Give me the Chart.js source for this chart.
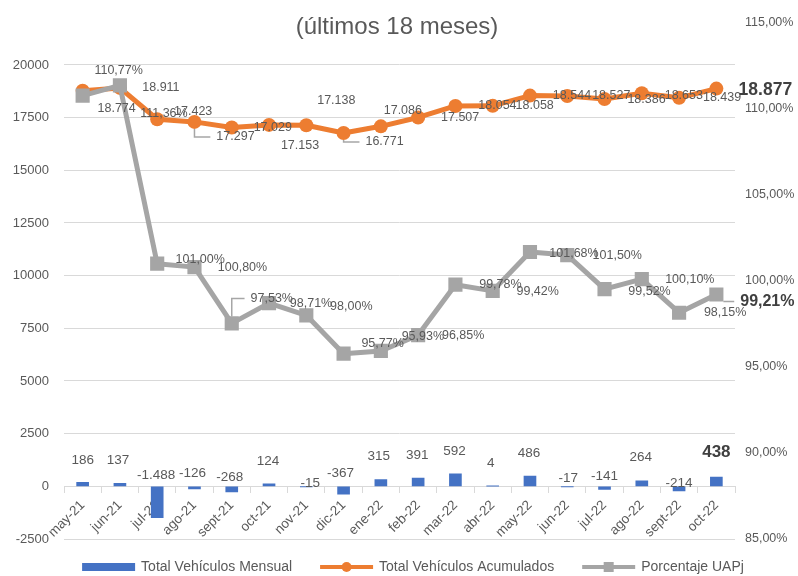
<!DOCTYPE html>
<html>
<head>
<meta charset="utf-8">
<script src="https://cdn.jsdelivr.net/npm/chart.js@4.4.0/dist/chart.umd.min.js"></script>
<style>
  html, body { margin: 0; padding: 0; background: #fff; }
  #wrap { width: 798px; height: 576px; position: relative; }
</style>
</head>
<body>
<div id="wrap"><canvas id="chart"></canvas></div>
<script>
// datos
const meses = ['may-21', 'jun-21', 'jul-21', 'ago-21', 'sept-21', 'oct-21', 'nov-21', 'dic-21', 'ene-22',
  'feb-22', 'mar-22', 'abr-22', 'may-22', 'jun-22', 'jul-22', 'ago-22', 'sept-22', 'oct-22'];
const mensual = [186, 137, -1488, -126, -268, 124, -15, -367, 315, 391, 592, 4, 486, -17, -141, 264, -214, 438];
const acumulado = [18774, 18911, 17423, 17297, 17029, 17153, 17138, 16771, 17086, 17507, 18054, 18058,
  18544, 18527, 18386, 18653, 18439, 18877];
const porcentaje = [110.77, 111.36, 101.00, 100.80, 97.53, 98.71, 98.00, 95.77, 95.93, 96.85, 99.78, 99.42,
  101.68, 101.50, 99.52, 100.10, 98.15, 99.21];
const ticksIzq = [-2500, 0, 2500, 5000, 7500, 10000, 12500, 15000, 17500, 20000];
const ticksDer = [85, 90, 95, 100, 105, 110, 115];

// desplazamiento de las etiquetas respecto a su punto (como las dejo Excel)
const mensualDx = [0, -2, -1, -2, -2, -1, 4, -3, -2, -1, -1, -2, -1, 1, 0, -1, 0, 0];
const mensualDy = [-22, -23, -42, -16, -15, -22, -3, -21, -23, -23, -23, -23, -23, -8, -13, -23, -8, -25];
const acumDx = [34, 41, 36, 41, 41, 31, 30, 41, 22, 42, 42, 42, 42, 44, 42, 42, 43, 49];
const acumDy = [18, 0, -8, 15, 0, 21, -25, 9, -16, 0, 0, 0, 0, 0, 1, 2, 0, 2];
const pctDx = [36, 44, 43, 48, 40, 42, 45, 39, 42, 45, 45, 45, 44, 50, 45, 48, 46, 51];
const pctDy = [-25, 28, -4, 0, -25, 0, -9, -10, -14, 0, 0, 1, 2, 0, 2, 0, 0, 7];

const AZUL = '#4472C4';
const NARANJA = '#ED7D31';
const GRIS = '#A5A5A5';
const TXT = '#595959';
const FONT = '"Liberation Sans", Arial, sans-serif';

function fmtMiles(v) {
  return (v < 0 ? '-' : '') + String(Math.abs(v)).replace(/\B(?=(\d{3})+(?!\d))/g, '.');
}
function fmtPct(v) {
  return v.toFixed(2).replace('.', ',') + '%';
}

const etiquetas = {
  id: 'etiquetas',
  afterDatasetsDraw(chart) {
    const ctx = chart.ctx;
    const series = [
      { idx: 0, vals: mensual, fmt: fmtMiles, dx: mensualDx, dy: mensualDy, size: 13.5, bold: 17, r: 0, guias: [] },
      { idx: 1, vals: acumulado, fmt: fmtMiles, dx: acumDx, dy: acumDy, size: 12.5, bold: 17.5, r: 7, guias: [3, 7] },
      { idx: 2, vals: porcentaje, fmt: fmtPct, dx: pctDx, dy: pctDy, size: 12.5, bold: 16, r: 7, guias: [4, 17] }
    ];
    ctx.save();
    ctx.textAlign = 'center';
    ctx.textBaseline = 'middle';
    series.forEach(s => {
      const meta = chart.getDatasetMeta(s.idx);
      meta.data.forEach((el, i) => {
        const ultimo = i === s.vals.length - 1;
        const txt = s.fmt(s.vals[i]);
        const lx = el.x + s.dx[i];
        const ly = el.y + s.dy[i];
        ctx.font = ultimo ? 'bold ' + s.bold + 'px ' + FONT : s.size + 'px ' + FONT;
        ctx.fillStyle = ultimo ? '#404040' : TXT;
        if (s.guias.includes(i)) {
          const izq = lx - ctx.measureText(txt).width / 2 - 6;
          ctx.strokeStyle = '#A6A6A6';
          ctx.lineWidth = 1.5;
          ctx.beginPath();
          if (Math.abs(ly - el.y) > s.r) {
            ctx.moveTo(el.x, el.y + Math.sign(ly - el.y) * s.r);
            ctx.lineTo(el.x, ly);
          } else {
            ctx.moveTo(el.x + s.r, ly);
          }
          ctx.lineTo(izq, ly);
          ctx.stroke();
        }
        ctx.fillText(txt, lx, ly);
      });
    });
    ctx.restore();
  }
};

const leyenda = {
  id: 'leyenda',
  afterDraw(chart) {
    const ctx = chart.ctx;
    ctx.save();
    // titulo
    ctx.font = '24px ' + FONT;
    ctx.fillStyle = TXT;
    ctx.textAlign = 'center';
    ctx.textBaseline = 'alphabetic';
    ctx.fillText('(últimos 18 meses)', 397, 34);

    // leyenda inferior
    ctx.font = '14px ' + FONT;
    ctx.textAlign = 'left';
    ctx.textBaseline = 'middle';
    const ds = chart.data.datasets;
    const muestra = 53, hueco = 6, sep = 28;
    let total = sep * (ds.length - 1);
    ds.forEach(d => { total += muestra + hueco + ctx.measureText(d.label).width; });
    let x = 413 - total / 2;
    const y = 567;
    ds.forEach(d => {
      if (d.type === 'bar') {
        ctx.fillStyle = d.backgroundColor;
        ctx.fillRect(x, y - 4, muestra, 8);
      } else {
        ctx.strokeStyle = d.borderColor;
        ctx.lineWidth = 4;
        ctx.beginPath();
        ctx.moveTo(x, y);
        ctx.lineTo(x + muestra, y);
        ctx.stroke();
        ctx.fillStyle = d.borderColor;
        if (d.pointStyle === 'rect') {
          ctx.fillRect(x + muestra / 2 - 5, y - 5, 10, 10);
        } else {
          ctx.beginPath();
          ctx.arc(x + muestra / 2, y, 5, 0, Math.PI * 2);
          ctx.fill();
        }
      }
      x += muestra + hueco;
      ctx.fillStyle = TXT;
      ctx.fillText(d.label, x, y);
      x += ctx.measureText(d.label).width + sep;
    });
    ctx.restore();
  }
};

const ctx = document.getElementById('chart').getContext('2d');
const grafico = new Chart(ctx, {
  type: 'bar',
  data: {
    labels: meses,
    datasets: [
      {
        type: 'bar',
        label: 'Total Vehículos Mensual',
        data: mensual,
        yAxisID: 'y',
        backgroundColor: AZUL,
        barThickness: 12,
        order: 3
      },
      {
        type: 'line',
        label: 'Total Vehículos Acumulados',
        data: acumulado,
        yAxisID: 'y',
        borderColor: NARANJA,
        backgroundColor: NARANJA,
        borderWidth: 5,
        borderJoinStyle: 'round',
        pointRadius: 7,
        pointBorderWidth: 0,
        pointBackgroundColor: NARANJA,
        order: 2
      },
      {
        type: 'line',
        label: 'Porcentaje UAPj',
        data: porcentaje,
        yAxisID: 'y1',
        borderColor: GRIS,
        backgroundColor: GRIS,
        borderWidth: 5,
        borderJoinStyle: 'round',
        pointStyle: 'rect',
        pointRadius: 10,
        pointBorderWidth: 0,
        pointBackgroundColor: GRIS,
        order: 1
      }
    ]
  },
  options: {
    responsive: true,
    maintainAspectRatio: false,
    animation: false,
    layout: { padding: { top: 19, bottom: 37, left: 0, right: 0 } },
    plugins: {
      legend: { display: false },
      tooltip: { enabled: false }
    },
    scales: {
      x: {
        position: { y: 0 },
        offset: true,
        grid: { drawOnChartArea: false, offset: true, tickLength: 6, color: '#D9D9D9' },
        border: { display: true, color: '#D9D9D9' },
        ticks: {
          autoSkip: false,
          minRotation: 45,
          maxRotation: 45,
          padding: 5,
          color: TXT,
          font: { family: FONT, size: 13.5 }
        }
      },
      y: {
        position: 'left',
        min: -2500,
        max: 22000,
        afterBuildTicks: s => { s.ticks = ticksIzq.map(v => ({ value: v })); },
        afterFit: s => { s.width = 64; },
        grid: { color: '#D9D9D9', drawTicks: false },
        border: { display: false },
        ticks: { padding: 15, color: TXT, font: { family: FONT, size: 13 }, callback: v => String(v) }
      },
      y1: {
        position: 'right',
        min: 85,
        max: 115,
        afterBuildTicks: s => { s.ticks = ticksDer.map(v => ({ value: v })); },
        afterFit: s => { s.width = 63; },
        grid: { display: false, drawTicks: false },
        border: { display: false },
        ticks: {
          padding: 10,
          color: TXT,
          font: { family: FONT, size: 12.5 },
          callback: v => fmtPct(v)
        }
      }
    }
  },
  plugins: [etiquetas, leyenda]
});
</script>
</body>
</html>
